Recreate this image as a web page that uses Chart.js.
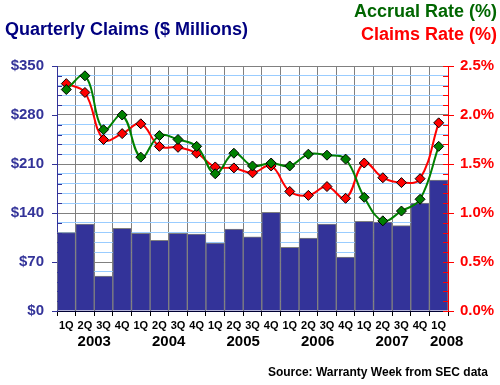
<!DOCTYPE html>
<html>
<head>
    <title>Quarterly Claims</title>
    <style>
        body { margin: 0; background: #fff; }
        #wrap { width: 500px; height: 385px; }
    </style>
    <script src="https://cdn.jsdelivr.net/npm/chart.js"></script>
</head>
<body>
    <div id="wrap"><canvas id="chart" width="500" height="385"></canvas></div>

    <script>
        const quarters = ['1Q','2Q','3Q','4Q','1Q','2Q','3Q','4Q','1Q','2Q','3Q','4Q','1Q','2Q','3Q','4Q','1Q','2Q','3Q','4Q','1Q'];
        const years = ['2003', '2004', '2005', '2006', '2007', '2008'];
        // index of first and last quarter each year label sits under
        const yearSpan = [[1, 2], [5, 6], [9, 10], [13, 14], [17, 18], [20, 20]];

        const claims = [112, 124, 50, 118, 111, 101, 111, 110, 97, 117, 106, 141, 91, 104, 124, 77, 128, 127, 122, 154, 187];
        const accrualRate = [2.26, 2.40, 1.85, 2.00, 1.57, 1.79, 1.75, 1.68, 1.40, 1.61, 1.48, 1.51, 1.48, 1.60, 1.59, 1.55, 1.16, 0.92, 1.02, 1.14, 1.68];
        const claimsRate = [2.32, 2.23, 1.75, 1.81, 1.91, 1.68, 1.67, 1.61, 1.47, 1.46, 1.41, 1.48, 1.22, 1.18, 1.27, 1.15, 1.51, 1.36, 1.31, 1.35, 1.92];

        const FONT = 'Arial, "Liberation Sans", sans-serif';

        // titles, year labels, source note and the small axis ticks
        const extras = {
            id: 'extras',
            afterDraw(chart) {
                const ctx = chart.ctx;
                const x = chart.scales.x, y = chart.scales.y, y1 = chart.scales.y1;
                ctx.save();

                // axis ticks
                ctx.lineWidth = 1;
                ctx.strokeStyle = '#333399';
                for (let v = 0; v <= 350; v += 14) {
                    const py = Math.round(y.getPixelForValue(v)) + 0.5;
                    ctx.beginPath();
                    if (v % 70 === 0) { ctx.moveTo(y.right - 5, py); ctx.lineTo(y.right, py); }
                    else { ctx.moveTo(y.right, py); ctx.lineTo(y.right + 5, py); }
                    ctx.stroke();
                }
                ctx.strokeStyle = '#ff0000';
                for (let i = 0; i <= 25; i++) {
                    const py = Math.round(y1.getPixelForValue(i / 10)) + 0.5;
                    ctx.beginPath();
                    if (i % 5 === 0) { ctx.moveTo(y1.left - 5, py); ctx.lineTo(y1.left + 6, py); }
                    else { ctx.moveTo(y1.left - 5, py); ctx.lineTo(y1.left, py); }
                    ctx.stroke();
                }

                // titles
                ctx.font = 'bold 18px ' + FONT;
                ctx.textBaseline = 'middle';
                ctx.textAlign = 'left';
                ctx.fillStyle = '#000080';
                ctx.fillText('Quarterly Claims ($ Millions)', 5, 30);
                ctx.textAlign = 'right';
                ctx.fillStyle = '#006600';
                ctx.fillText('Accrual Rate (%)', 497, 12);
                ctx.fillStyle = '#ff0000';
                ctx.fillText('Claims Rate (%)', 497, 35);

                // years
                ctx.font = 'bold 15px ' + FONT;
                ctx.fillStyle = '#000';
                ctx.textAlign = 'center';
                years.forEach((yr, i) => {
                    const px = (x.getPixelForValue(yearSpan[i][0]) + x.getPixelForValue(yearSpan[i][1])) / 2;
                    ctx.fillText(yr, px + (i === 5 ? 8 : 0), 342);
                });

                // source
                ctx.font = 'bold 12px ' + FONT;
                ctx.textAlign = 'right';
                ctx.fillText('Source: Warranty Week from SEC data', 488, 373);
                ctx.restore();
            }
        };

        new Chart(document.getElementById('chart'), {
            data: {
                labels: quarters,
                datasets: [
                    {
                        type: 'line',
                        label: 'Claims Rate (%)',
                        data: claimsRate,
                        yAxisID: 'y1',
                        borderColor: '#ff0000',
                        backgroundColor: '#ff0000',
                        borderWidth: 2,
                        tension: 0.4,
                        pointStyle: 'rectRot',
                        pointRadius: 5,
                        pointBorderColor: '#000',
                        pointBorderWidth: 1,
                        order: 2
                    },
                    {
                        type: 'line',
                        label: 'Accrual Rate (%)',
                        data: accrualRate,
                        yAxisID: 'y1',
                        borderColor: '#008000',
                        backgroundColor: '#008000',
                        borderWidth: 2,
                        tension: 0.4,
                        pointStyle: 'rectRot',
                        pointRadius: 5,
                        pointBorderColor: '#000',
                        pointBorderWidth: 1,
                        order: 1
                    },
                    {
                        type: 'bar',
                        label: 'Quarterly Claims',
                        data: claims,
                        yAxisID: 'y',
                        backgroundColor: '#333399',
                        borderColor: '#808080',
                        borderWidth: 1,
                        barPercentage: 1,
                        categoryPercentage: 1,
                        order: 3
                    }
                ]
            },
            options: {
                responsive: false,
                animation: false,
                layout: { padding: { top: 66, left: 0, right: 0, bottom: 0 } },
                plugins: { legend: { display: false }, title: { display: false }, tooltip: { enabled: false } },
                scales: {
                    x: {
                        offset: true,
                        grid: { offset: true, color: '#808080', tickColor: '#000', tickLength: 5 },
                        border: { color: '#000033', width: 1 },
                        ticks: { autoSkip: false, maxRotation: 0, padding: 3, color: '#000', font: { family: FONT, size: 11, weight: 'bold' } },
                        afterFit(s) { s.height = 74; }
                    },
                    y: {
                        position: 'left',
                        min: 0, max: 350,
                        grid: {
                            drawTicks: false,
                            color: (c) => (c.tick.value % 70 === 0 ? '#808080' : '#99ccff')
                        },
                        border: { color: '#333399', width: 1 },
                        ticks: {
                            stepSize: 14,
                            autoSkip: false,
                            padding: 13,
                            color: '#333399',
                            font: { family: FONT, size: 15, weight: 'bold' },
                            callback: (v) => (v % 70 === 0 ? '$' + v : '')
                        },
                        afterFit(s) { s.width = 57; }
                    },
                    y1: {
                        position: 'right',
                        min: 0, max: 2.5,
                        grid: { display: false, drawTicks: false },
                        border: { color: '#ff0000', width: 1 },
                        ticks: {
                            stepSize: 0.5,
                            padding: 12,
                            color: '#ff0000',
                            font: { family: FONT, size: 15, weight: 'bold' },
                            callback: (v) => v.toFixed(1) + '%'
                        },
                        afterFit(s) { s.width = 52; }
                    }
                }
            },
            plugins: [extras]
        });
    </script>
</body>
</html>
